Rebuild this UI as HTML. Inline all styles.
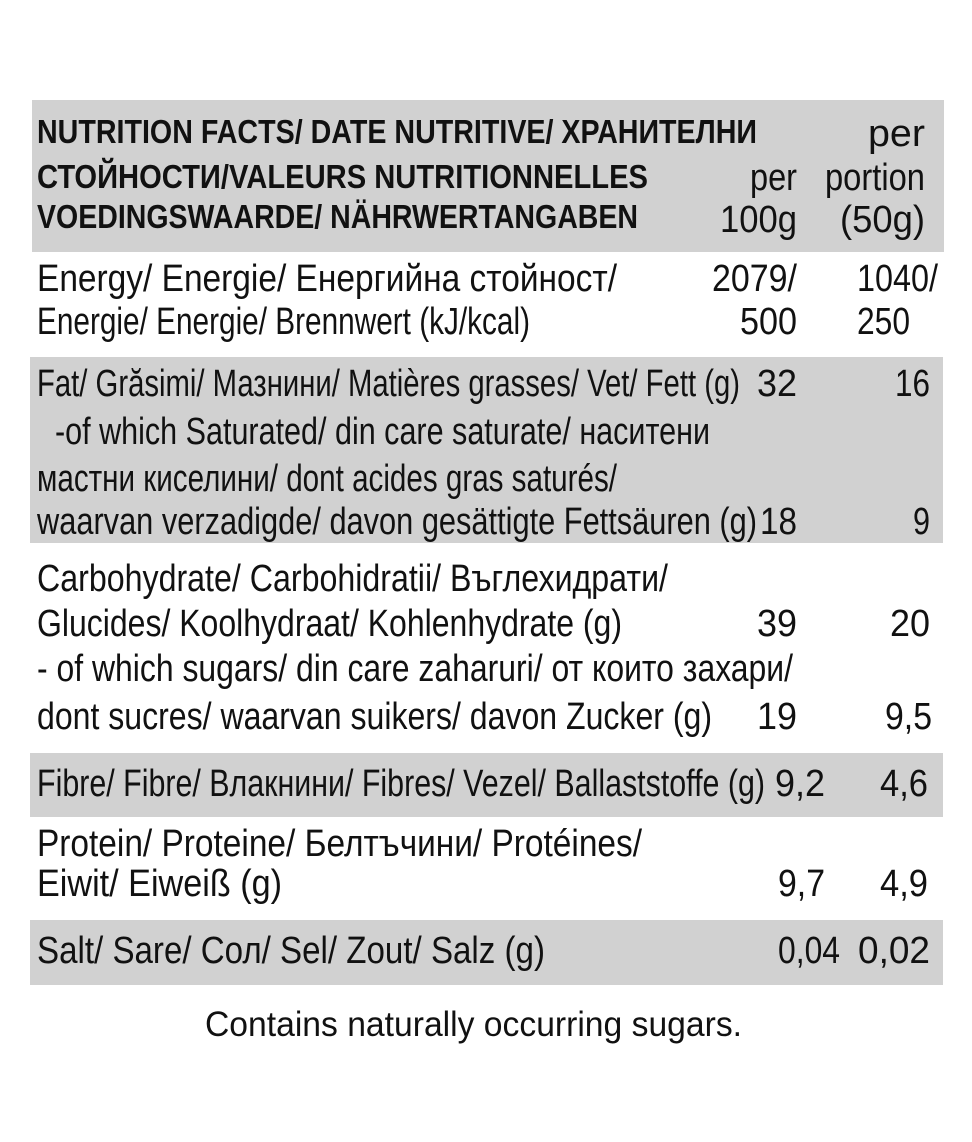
<!DOCTYPE html>
<html><head><meta charset="utf-8"><style>html,body{margin:0;padding:0;background:#fff}</style></head>
<body>
<svg width="972" height="1137" viewBox="0 0 972 1137" xmlns="http://www.w3.org/2000/svg" font-family="'Liberation Sans','Noto Sans CJK SC',sans-serif" fill="#111">
<rect x="0" y="0" width="972" height="1137" fill="#fff"/>
<g fill="#d1d1d1">
<rect x="32" y="100" width="912" height="152"/>
<rect x="30" y="357" width="913" height="186"/>
<rect x="30" y="753" width="913" height="64"/>
<rect x="30" y="920" width="913" height="65"/>
</g>
<g font-weight="bold" font-size="33">
<text x="37" y="143" textLength="720" lengthAdjust="spacingAndGlyphs">NUTRITION FACTS/ DATE NUTRITIVE/ ХРАНИТЕЛНИ</text>
<text x="37" y="188" textLength="611" lengthAdjust="spacingAndGlyphs">СТОЙНОСТИ/VALEURS NUTRITIONNELLES</text>
<text x="37" y="228" textLength="601" lengthAdjust="spacingAndGlyphs">VOEDINGSWAARDE/ NÄHRWERTANGABEN</text>
</g>
<g font-size="38">
<text x="868" y="146" textLength="57" lengthAdjust="spacingAndGlyphs">per</text>
<text x="750" y="190" textLength="47" lengthAdjust="spacingAndGlyphs">per</text>
<text x="825" y="190" textLength="100" lengthAdjust="spacingAndGlyphs">portion</text>
<text x="720" y="232" textLength="77" lengthAdjust="spacingAndGlyphs">100g</text>
<text x="840" y="232" textLength="85" lengthAdjust="spacingAndGlyphs">(50g)</text>

<text x="37" y="291" textLength="580" lengthAdjust="spacingAndGlyphs">Energy/ Energie/ Енергийна стойност/</text>
<text x="712" y="291" textLength="85" lengthAdjust="spacingAndGlyphs">2079/</text>
<text x="857" y="291" textLength="81" lengthAdjust="spacingAndGlyphs">1040/</text>
<text x="37" y="334" textLength="493" lengthAdjust="spacingAndGlyphs">Energie/ Energie/ Brennwert (kJ/kcal)</text>
<text x="740" y="334" textLength="57" lengthAdjust="spacingAndGlyphs">500</text>
<text x="857" y="334" textLength="53" lengthAdjust="spacingAndGlyphs">250</text>

<text x="37" y="396" textLength="703" lengthAdjust="spacingAndGlyphs">Fat/ Grăsimi/ Мазнини/ Matières grasses/ Vet/ Fett (g)</text>
<text x="757" y="396" textLength="40" lengthAdjust="spacingAndGlyphs">32</text>
<text x="895" y="396" textLength="35" lengthAdjust="spacingAndGlyphs">16</text>
<text x="55" y="444" textLength="655" lengthAdjust="spacingAndGlyphs">-of which Saturated/ din care saturate/ наситени</text>
<text x="37" y="491" textLength="580" lengthAdjust="spacingAndGlyphs">мастни киселини/ dont acides gras saturés/</text>
<text x="37" y="534" textLength="720" lengthAdjust="spacingAndGlyphs">waarvan verzadigde/ davon gesättigte Fettsäuren (g)</text>
<text x="760" y="534" textLength="37" lengthAdjust="spacingAndGlyphs">18</text>
<text x="913" y="534" textLength="17" lengthAdjust="spacingAndGlyphs">9</text>

<text x="37" y="591" textLength="631" lengthAdjust="spacingAndGlyphs">Carbohydrate/ Carbohidratii/ Въглехидрати/</text>
<text x="37" y="636" textLength="585" lengthAdjust="spacingAndGlyphs">Glucides/ Koolhydraat/ Kohlenhydrate (g)</text>
<text x="757" y="636" textLength="40" lengthAdjust="spacingAndGlyphs">39</text>
<text x="890" y="636" textLength="40" lengthAdjust="spacingAndGlyphs">20</text>
<text x="37" y="681" textLength="756" lengthAdjust="spacingAndGlyphs">- of which sugars/ din care zaharuri/ от които захари/</text>
<text x="37" y="729" textLength="675" lengthAdjust="spacingAndGlyphs">dont sucres/ waarvan suikers/ davon Zucker (g)</text>
<text x="757" y="729" textLength="40" lengthAdjust="spacingAndGlyphs">19</text>
<text x="885" y="729" textLength="47" lengthAdjust="spacingAndGlyphs">9,5</text>

<text x="37" y="796" textLength="728" lengthAdjust="spacingAndGlyphs">Fibre/ Fibre/ Влакнини/ Fibres/ Vezel/ Ballaststoffe (g)</text>
<text x="775" y="796" textLength="50" lengthAdjust="spacingAndGlyphs">9,2</text>
<text x="880" y="796" textLength="48" lengthAdjust="spacingAndGlyphs">4,6</text>

<text x="37" y="856" textLength="605" lengthAdjust="spacingAndGlyphs">Protein/ Proteine/ Белтъчини/ Protéines/</text>
<text x="37" y="896" textLength="245" lengthAdjust="spacingAndGlyphs">Eiwit/ Eiweiß (g)</text>
<text x="778" y="896" textLength="47" lengthAdjust="spacingAndGlyphs">9,7</text>
<text x="880" y="896" textLength="48" lengthAdjust="spacingAndGlyphs">4,9</text>

<text x="37" y="963" textLength="508" lengthAdjust="spacingAndGlyphs">Salt/ Sare/ Сол/ Sel/ Zout/ Salz (g)</text>
<text x="778" y="963" textLength="62" lengthAdjust="spacingAndGlyphs">0,04</text>
<text x="858" y="963" textLength="72" lengthAdjust="spacingAndGlyphs">0,02</text>
</g>
<text x="205" y="1036" font-size="35" textLength="537" lengthAdjust="spacingAndGlyphs">Contains naturally occurring sugars.</text>
</svg>
</body></html>
